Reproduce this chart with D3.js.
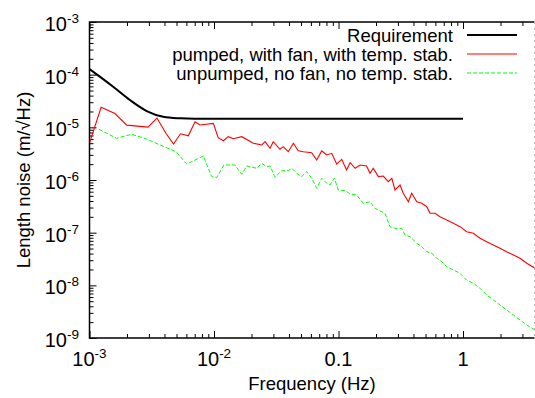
<!DOCTYPE html>
<html>
<head>
<meta charset="utf-8">
<script src="https://cdn.jsdelivr.net/npm/d3@7"></script>
<style>
body { margin: 0; background: #fff; }
text { font-family: "Liberation Sans", Arial, sans-serif; fill: #000; }
</style>
</head>
<body>
<div class="content"></div>
<script>
// requirement curve (m/sqrt(Hz))
var reqFreq = [1e-3, 1.24e-3, 1.55e-3, 2.11e-3, 2.88e-3, 3.91e-3, 5.33e-3, 7e-3, 1];
var reqVal = [1.28e-4, 8.8e-5, 5.9e-5, 3.3e-5, 2.04e-5, 1.59e-5, 1.48e-5, 1.45e-5, 1.45e-5];

// pumped, with fan, with temp. stab.
var pumpedFreq = [1.0e-3, 1.24e-3, 1.60e-3, 1.99e-3, 2.95e-3, 3.48e-3, 4.11e-3, 4.73e-3, 5.38e-3, 6.22e-3,
    7.04e-3, 7.72e-3, 9.87e-3, 1.08e-2, 1.19e-2, 1.30e-2, 1.43e-2, 1.67e-2, 2.07e-2, 2.42e-2,
    2.57e-2, 2.82e-2, 2.99e-2, 3.39e-2, 3.60e-2, 3.95e-2, 4.34e-2, 4.75e-2, 5.21e-2, 6.09e-2,
    6.68e-2, 7.33e-2, 8.04e-2, 8.82e-2, 9.67e-2, 0.106, 0.116, 0.124, 0.136, 0.149,
    0.168, 0.179, 0.190, 0.209, 0.229, 0.251, 0.268, 0.284, 0.312, 0.331,
    0.364, 0.387, 0.425, 0.466, 0.511, 0.543, 0.596, 0.653, 0.740, 0.836,
    0.946, 1.07, 1.21, 1.37, 1.55, 1.75, 1.98, 2.24, 2.54, 2.87, 3.25, 3.79];
var pumpedVal = [5.05e-6, 2.40e-5, 1.83e-5, 1.10e-5, 1.01e-5, 1.50e-5, 7.71e-6, 4.83e-6, 7.54e-6, 6.91e-6,
    1.28e-5, 1.11e-5, 1.19e-5, 6.36e-6, 5.57e-6, 6.64e-6, 6.08e-6, 6.64e-6, 4.98e-6, 4.62e-6,
    5.34e-6, 4.00e-6, 5.34e-6, 3.83e-6, 4.29e-6, 3.45e-6, 4.98e-6, 3.60e-6, 3.45e-6, 3.30e-6,
    2.40e-6, 3.56e-6, 2.99e-6, 3.21e-6, 2.01e-6, 2.47e-6, 1.55e-6, 2.13e-6, 1.67e-6, 1.93e-6,
    1.85e-6, 1.34e-6, 1.67e-6, 1.16e-6, 1.19e-6, 9.29e-7, 1.08e-6, 6.46e-7, 8.04e-7, 5.60e-7,
    3.87e-7, 5.60e-7, 3.87e-7, 3.61e-7, 3.11e-7, 2.33e-7, 2.33e-7, 2.01e-7, 1.74e-7, 1.51e-7,
    1.30e-7, 1.04e-7, 9.73e-8, 7.82e-8, 6.74e-8, 5.83e-8, 5.05e-8, 4.36e-8, 3.77e-8, 3.27e-8, 2.62e-8, 2.11e-8];

// unpumped, no fan, no temp. stab.
var unpumpedFreq = [1.19e-3, 1.65e-3, 2.18e-3, 2.79e-3, 4.95e-3, 6.04e-3, 8.20e-3, 9.58e-3, 1.05e-2, 1.20e-2,
    1.47e-2, 1.67e-2, 1.83e-2, 2.20e-2, 2.42e-2, 2.65e-2, 2.82e-2, 3.09e-2, 3.50e-2, 3.95e-2,
    4.21e-2, 4.62e-2, 5.06e-2, 5.55e-2, 6.09e-2, 6.68e-2, 7.33e-2, 8.04e-2, 8.54e-2, 9.25e-2,
    9.96e-2, 0.113, 0.124, 0.140, 0.158, 0.179, 0.196, 0.222, 0.236, 0.259,
    0.284, 0.322, 0.342, 0.375, 0.425, 0.466, 0.511, 0.561, 0.615, 0.675,
    0.740, 0.836, 0.946, 1.07, 1.21, 1.37, 1.55, 1.75, 1.98, 2.24, 2.54, 2.87, 3.25, 3.79];
var unpumpedVal = [9.18e-6, 6.19e-6, 7.38e-6, 6.14e-6, 3.45e-6, 2.00e-6, 2.86e-6, 1.16e-6, 1.11e-6, 1.93e-6,
    1.93e-6, 1.28e-6, 1.85e-6, 1.67e-6, 2.07e-6, 1.79e-6, 1.85e-6, 1.13e-6, 1.50e-6, 1.50e-6,
    1.67e-6, 1.34e-6, 1.16e-6, 1.44e-6, 1.08e-6, 6.97e-7, 1.08e-6, 8.67e-7, 8.04e-7, 1.08e-6,
    6.46e-7, 6.27e-7, 5.42e-7, 5.19e-7, 3.61e-7, 3.87e-7, 2.90e-7, 2.50e-7, 2.33e-7, 1.30e-7,
    1.21e-7, 1.21e-7, 9.04e-8, 8.39e-8, 6.28e-8, 5.42e-8, 4.36e-8, 4.06e-8, 3.27e-8, 2.81e-8,
    2.26e-8, 1.96e-8, 1.69e-8, 1.26e-8, 1.09e-8, 8.79e-9, 6.56e-9, 5.27e-9, 4.24e-9, 3.40e-9,
    2.74e-9, 2.20e-9, 1.77e-9, 1.42e-9];

// ticks
var xMajor = [1e-3, 1e-2, 0.1, 1];
var xLabels = [['10', '-3'], ['10', '-2'], ['0.1'], ['1']];
var yMajor = [1e-9, 1e-8, 1e-7, 1e-6, 1e-5, 1e-4, 1e-3];
var yLabels = ['-9', '-8', '-7', '-6', '-5', '-4', '-3'];

var legendNames = ['Requirement', 'pumped, with fan, with temp. stab.', 'unpumped, no fan, no temp. stab.'];
var legendColors = ['#000', '#ff0000', '#00ff00'];

var width = 535, height = 398;
var plot = {left: 89.5, right: 534.5, top: 22, bottom: 338};
var fontSize = 18.5;
var tickFont = 20, expFont = 13.5;

var svg = d3.select('.content').append('svg')
    .attr('width', width)
    .attr('height', height);

var x = d3.scaleLog().domain([1e-3, 3.75]).range([plot.left, plot.right]);
var y = d3.scaleLog().domain([1e-9, 1e-3]).range([plot.bottom, plot.top]);

function minorTicks(scale) {
    var d = scale.domain(), out = [];
    for(var p = Math.floor(Math.log10(d[0])); p <= Math.ceil(Math.log10(d[1])); p++) {
        for(var k = 2; k <= 9; k++) {
            var v = k * Math.pow(10, p);
            if(v > d[0] && v < d[1]) out.push(v);
        }
    }
    return out;
}

function drawAxis(axis, tx, ty) {
    var g = svg.append('g').attr('transform', 'translate(' + tx + ',' + ty + ')').call(axis);
    g.select('.domain').remove();
    g.selectAll('line').attr('stroke', '#000').attr('stroke-width', 1);
    g.selectAll('text').remove();
}

// inward ticks (gnuplot style)
drawAxis(d3.axisBottom(x).tickValues(xMajor).tickSize(-7), 0, plot.bottom);
drawAxis(d3.axisBottom(x).tickValues(minorTicks(x)).tickSize(-4), 0, plot.bottom);
drawAxis(d3.axisTop(x).tickValues(xMajor).tickSize(-7), 0, plot.top);
drawAxis(d3.axisTop(x).tickValues(minorTicks(x)).tickSize(-4), 0, plot.top);
drawAxis(d3.axisLeft(y).tickValues(yMajor).tickSize(-7), plot.left, 0);
drawAxis(d3.axisLeft(y).tickValues(minorTicks(y)).tickSize(-4), plot.left, 0);

// border: right edge is cut off in the original, so it is only faint
svg.append('path')
    .attr('d', 'M' + plot.right + ',' + plot.top + 'H' + plot.left + 'V' + plot.bottom + 'H' + plot.right)
    .attr('fill', 'none').attr('stroke', '#000').attr('stroke-width', 1.5);
svg.append('line')
    .attr('x1', plot.right).attr('x2', plot.right).attr('y1', plot.top).attr('y2', plot.bottom)
    .attr('stroke', '#bbb').attr('stroke-width', 1).attr('stroke-dasharray', '2,4');

// tick labels
svg.append('g').selectAll('text').data(xMajor).enter().append('text')
    .attr('x', function(d) { return x(d); })
    .attr('y', plot.bottom + 28)
    .attr('text-anchor', 'middle')
    .style('font-size', tickFont + 'px')
    .each(function(d, i) {
        var t = d3.select(this), lab = xLabels[i];
        t.append('tspan').text(lab[0]);
        if(lab[1]) t.append('tspan').attr('dy', -8).style('font-size', expFont + 'px').text(lab[1]);
    });

svg.append('g').selectAll('text').data(yMajor).enter().append('text')
    .attr('x', 79)
    .attr('y', function(d) { return y(d) + 9; })
    .attr('text-anchor', 'end')
    .style('font-size', tickFont + 'px')
    .each(function(d, i) {
        var t = d3.select(this);
        t.append('tspan').text('10');
        t.append('tspan').attr('dy', -8).style('font-size', expFont + 'px').text(yLabels[i]);
    });

// axis titles
svg.append('text')
    .attr('x', (plot.left + plot.right) / 2)
    .attr('y', 390)
    .attr('text-anchor', 'middle')
    .style('font-size', fontSize + 'px')
    .text('Frequency (Hz)');
svg.append('text')
    .attr('transform', 'translate(30,' + (plot.top + plot.bottom) / 2 + ') rotate(-90)')
    .attr('text-anchor', 'middle')
    .style('font-size', fontSize + 'px')
    .text('Length noise (m/\u221AHz)');

// series
svg.append('clipPath').attr('id', 'clip').append('rect')
    .attr('x', plot.left).attr('y', plot.top)
    .attr('width', plot.right - plot.left).attr('height', plot.bottom - plot.top);

function toPoints(fs, vs) {
    return fs.map(function(f, i) { return {f: f, v: vs[i]}; });
}

var line = d3.line()
    .x(function(d) { return x(d.f); })
    .y(function(d) { return y(d.v); });

var series = svg.append('g').attr('clip-path', 'url(#clip)');
series.append('path')
    .datum(toPoints(unpumpedFreq, unpumpedVal))
    .attr('d', line)
    .attr('fill', 'none').attr('stroke', legendColors[2]).attr('stroke-width', 1)
    .attr('stroke-dasharray', '4,2');
series.append('path')
    .datum(toPoints(pumpedFreq, pumpedVal))
    .attr('d', line)
    .attr('fill', 'none').attr('stroke', legendColors[1]).attr('stroke-width', 1.1);
series.append('path')
    .datum(toPoints(reqFreq, reqVal))
    .attr('d', line.curve(d3.curveMonotoneX))
    .attr('fill', 'none').attr('stroke', legendColors[0]).attr('stroke-width', 2);

// legend
var legend = svg.append('g');
legendNames.forEach(function(name, i) {
    var ly = 35 + i * 19;
    legend.append('text')
        .attr('x', 453).attr('y', ly + 7)
        .attr('text-anchor', 'end')
        .style('font-size', fontSize + 'px')
        .text(name);
    legend.append('line')
        .attr('x1', 467).attr('x2', 517).attr('y1', ly).attr('y2', ly)
        .attr('stroke', legendColors[i])
        .attr('stroke-width', i == 0 ? 2 : 1.1)
        .attr('stroke-dasharray', i == 2 ? '4,2' : null);
});
</script>
</body>
</html>
